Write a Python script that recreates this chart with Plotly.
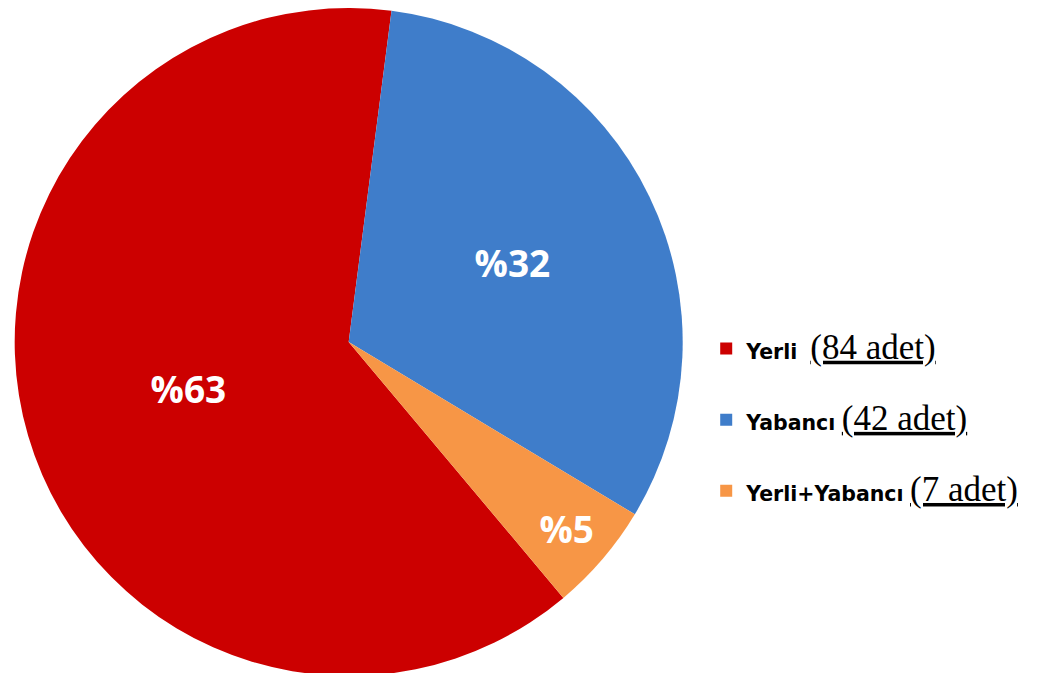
import plotly.graph_objects as go

# Data
categories = ['Yerli', 'Yabancı', 'Yerli+Yabancı']
counts = [84, 42, 7]
pct_labels = ['%63', '%32', '%5']
colors = ['#CC0000', '#3F7DCA', '#F79646']

# Legend text: bold sans name + underlined serif count
legend_names = []
for i, name in enumerate(categories):
    gap = '\u00a0\u00a0' if name == 'Yerli' else '\u00a0'
    legend_names.append(
        "<span style='font-family:DejaVu Sans;font-size:20.5px'><b>" + name + "</b></span>"
        + gap + "<span style='font-size:35px'><u>(" + str(counts[i]) + " adet)</u></span><br>\u00a0"
    )

fig = go.Figure(go.Pie(
    labels=legend_names,
    values=counts,
    text=pct_labels,
    textinfo='text',
    textposition='inside',
    insidetextorientation='horizontal',
    textfont=dict(family='Open Sans', size=37, color='white', weight='bold'),
    marker=dict(colors=colors, line=dict(width=0)),
    sort=False,
    direction='clockwise',
    rotation=140,
    hoverinfo='skip',
    domain=dict(x=[0.0058, 0.650], y=[0.0074, 1.0]),
))

fig.update_layout(
    width=1039,
    height=673,
    margin=dict(l=0, r=0, t=0, b=0),
    paper_bgcolor='white',
    plot_bgcolor='white',
    showlegend=True,
    legend=dict(
        x=0.672, xanchor='left',
        y=0.529, yanchor='top',
        font=dict(family='Liberation Serif', size=26.2, color='black'),
        valign='top',
        bgcolor='rgba(0,0,0,0)',
    ),
)

fig.write_html("out.html")
